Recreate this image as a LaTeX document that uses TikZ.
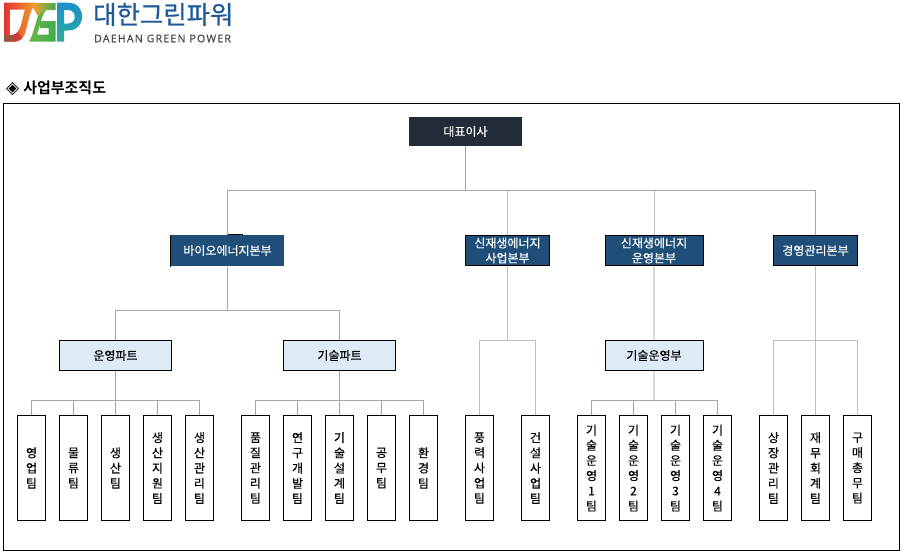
\documentclass[tikz,border=0pt]{standalone}
\usepackage{fontspec}
\usepackage{xcolor}
\newfontfamily\kofont{Noto Sans CJK KR}[FakeBold=0.35]
\newfontfamily\kologo{Noto Sans CJK KR}[FakeBold=0.7]
\newfontfamily\kobold{Noto Sans CJK KR Bold}
\newfontfamily\logofont{Noto Sans}[LetterSpace=11.7,FakeBold=0.2]
\newfontfamily\marksymbol{DejaVu Sans}
\definecolor{ceofill}{HTML}{222B38}
\definecolor{headfill}{HTML}{1F4E79}
\definecolor{partfill}{HTML}{DEEAF6}
\definecolor{linka}{HTML}{A6A6A6}
\definecolor{linkb}{HTML}{BFBFBF}
\definecolor{linkc}{HTML}{D9D9D9}
\definecolor{logoblue}{HTML}{1F5A96}
\definecolor{logored}{HTML}{E2332F}
\definecolor{logobrown}{HTML}{8A5B45}
\definecolor{logoorange}{HTML}{F2A02E}
\definecolor{logoyellow}{HTML}{C9C236}
\definecolor{logogreen}{HTML}{3FAE4E}
\definecolor{logocyan}{HTML}{1B8FCF}
\definecolor{logoteal}{HTML}{2FAE9C}
\begin{document}
\begin{tikzpicture}[x=1pt,y=-1pt,
	ceobox/.style={fill=ceofill,text=white,font=\kofont\fontsize{12}{15}\selectfont,minimum width=113pt,minimum height=29pt,inner sep=0pt},
	headbox/.style={draw=black,line width=1pt,fill=headfill,text=white,align=center,font=\kofont\fontsize{12}{15}\selectfont,minimum height=30pt,inner sep=0pt},
	partbox/.style={draw=black,line width=1pt,fill=partfill,font=\kofont\fontsize{12}{15}\selectfont,minimum height=30pt,inner sep=0pt},
	teambox/.style={draw=black,line width=1pt,fill=white,align=center,font=\kofont\fontsize{12}{15.2}\selectfont,minimum width=28pt,minimum height=105pt,inner sep=0pt},
	link/.style={draw=linka,line width=1pt},
	lightlink/.style={draw=linkb,line width=1pt},
	widelink/.style={draw=linkc,line width=1.6pt}]
	\useasboundingbox (0,0) rectangle (903,554);
	\shade[left color=logogreen!70!logoyellow,right color=logogreen] (29,41.7) .. controls (34,33) and (35,24) .. (38,16) -- (44,10) -- (46,10) .. controls (42,14) and (40,26) .. (37,34.7) -- (48.5,34.7) -- (48.5,28) -- (40,28) -- (40,21) -- (55.5,21) -- (55.5,41.7) -- cycle;
	\shade[left color=logoorange,right color=logogreen] (34,3) -- (55.5,3) -- (55.5,10) -- (44,10) -- (38,16) -- (33,8) -- cycle;
	\shade[even odd rule,left color=logored,middle color=logored!85!logoorange,right color=logoorange] (4.3,2.7) -- (36,2.7) -- (36,4) .. controls (30,9) and (29,20) .. (26,30) .. controls (24,38) and (21,41.7) .. (14,41.7) -- (4.3,41.7) -- cycle (9.8,9.5) -- (25,9.5) .. controls (22,17) and (22,34) .. (12,35) -- (9.8,35) -- cycle;
	\shade[left color=logobrown,right color=logored] (4.3,35) -- (12,35) .. controls (14,35) and (16,34) .. (18,32) -- (22,38) .. controls (20,40.5) and (17,41.7) .. (14,41.7) -- (4.3,41.7) -- cycle;
	\shade[even odd rule,top color=logocyan,middle color=logocyan,bottom color=logoteal] (57,2.7) -- (68,2.7) .. controls (87,2.7) and (87,30.5) .. (68,30.5) -- (64,30.5) -- (64,41.7) -- (57,41.7) -- cycle (64,10) -- (68,10) .. controls (77,10) and (77,23.5) .. (68,23.5) -- (64,23.5) -- cycle;
	\node (logoko) [anchor=west,text=logoblue,inner sep=0pt,font=\kologo\fontsize{25.4}{25}\selectfont] at (93,14.5) {대한그린파워};
	\node (logoen) [anchor=west,text=black!70,inner sep=0pt,font=\logofont\fontsize{10.5}{11}\selectfont] at (94,38.5) {DAEHAN GREEN POWER};
	\node (title) [anchor=west,inner sep=0pt,font=\kobold\fontsize{15}{15}\selectfont] at (6,88) {{\marksymbol\fontsize{17}{17}\selectfont ◈}\hspace{4pt}사업부조직도};
	\draw[line width=1pt] (3.5,103.5) rectangle (899.5,550.5);
	\node (ceo)[ceobox] at (465.5,131.5) {대표이사};
	\node (bio)[headbox,draw=none,minimum width=113pt,minimum height=31pt] at (227.5,250.5) {바이오에너지본부};
	\node (newbiz)[headbox,minimum width=84pt] at (507.5,250.5) {신재생에너지\\사업본부};
	\node (newops)[headbox,minimum width=98pt] at (654,250.5) {신재생에너지\\운영본부};
	\node (mgmt)[headbox,minimum width=84pt] at (815.5,250.5) {경영관리본부};
	\node (opspart)[partbox,minimum width=112pt] at (115.5,355.5) {운영파트};
	\node (techpart)[partbox,minimum width=112pt] at (339.5,355.5) {기술파트};
	\node (techops)[partbox,minimum width=98pt] at (654,355.5) {기술운영부};
	\node (sales)[teambox] at (31.5,468) {영\\업\\팀};
	\node (logis)[teambox] at (73.5,468) {물\\류\\팀};
	\node (prod)[teambox] at (115.5,468) {생\\산\\팀};
	\node (support)[teambox] at (157.5,468) {생\\산\\지\\원\\팀};
	\node (control)[teambox] at (199.5,468) {생\\산\\관\\리\\팀};
	\node (quality)[teambox] at (255.5,468) {품\\질\\관\\리\\팀};
	\node (rnd)[teambox] at (297.5,468) {연\\구\\개\\발\\팀};
	\node (design)[teambox] at (339.5,468) {기\\술\\설\\계\\팀};
	\node (works)[teambox] at (381.5,468) {공\\무\\팀};
	\node (envir)[teambox] at (423.5,468) {환\\경\\팀};
	\node (wind)[teambox] at (479.5,468) {풍\\력\\사\\업\\팀};
	\node (build)[teambox] at (535.5,468) {건\\설\\사\\업\\팀};
	\node (opsa)[teambox] at (591.5,468) {기\\술\\운\\영\\1\\팀};
	\node (opsb)[teambox] at (633.5,468) {기\\술\\운\\영\\2\\팀};
	\node (opsc)[teambox] at (675.5,468) {기\\술\\운\\영\\3\\팀};
	\node (opsd)[teambox] at (717.5,468) {기\\술\\운\\영\\4\\팀};
	\node (listing)[teambox] at (773.5,468) {상\\장\\관\\리\\팀};
	\node (account)[teambox] at (815.5,468) {재\\무\\회\\계\\팀};
	\node (purchase)[teambox] at (857.5,468) {구\\매\\총\\무\\팀};
	\coordinate (ceobus) at (465.5,190.5);
	\coordinate (biobus) at (227.5,310.5);
	\coordinate (opsbus) at (115.5,400.5);
	\coordinate (techbus) at (339.5,400.5);
	\coordinate (windbus) at (507.5,340.5);
	\coordinate (runbus) at (654,400.5);
	\coordinate (mgmtbus) at (815.5,340.5);
	\draw[link] (ceo.south) -- (ceobus) (bio.north) |- (ceobus) -| (mgmt.north);
	\draw[lightlink] (newbiz.north) -- (newbiz.north |- ceobus) (newops.north) -- (newops.north |- ceobus);
	\draw[link] (bio.south) -- (biobus) (opspart.north) |- (biobus) -| (techpart.north);
	\draw[lightlink] (newbiz.south) -- (windbus) (wind.north) |- (windbus) -| (build.north);
	\draw[widelink] (newops.south) -- (techops.north) (techops.south) -- (runbus);
	\draw[lightlink] (mgmt.south) -- (mgmtbus) (listing.north) |- (mgmtbus) -| (purchase.north) (account.north) -- (mgmtbus);
	\draw[link] (opspart.south) -- (opsbus) (sales.north) |- (opsbus) -| (control.north) (logis.north) -- (logis.north |- opsbus) (prod.north) -- (opsbus) (support.north) -- (support.north |- opsbus);
	\draw[link] (techpart.south) -- (techbus) (quality.north) |- (techbus) -| (envir.north) (rnd.north) -- (rnd.north |- techbus) (design.north) -- (techbus) (works.north) -- (works.north |- techbus);
	\draw[link] (opsa.north) |- (runbus) -| (opsd.north) (opsb.north) -- (opsb.north |- runbus) (opsc.north) -- (opsc.north |- runbus);
	\draw[line width=1pt] (bio.north west) -- (bio.south west) (bio.north) -- ++(15,0);
\end{tikzpicture}
\end{document}
